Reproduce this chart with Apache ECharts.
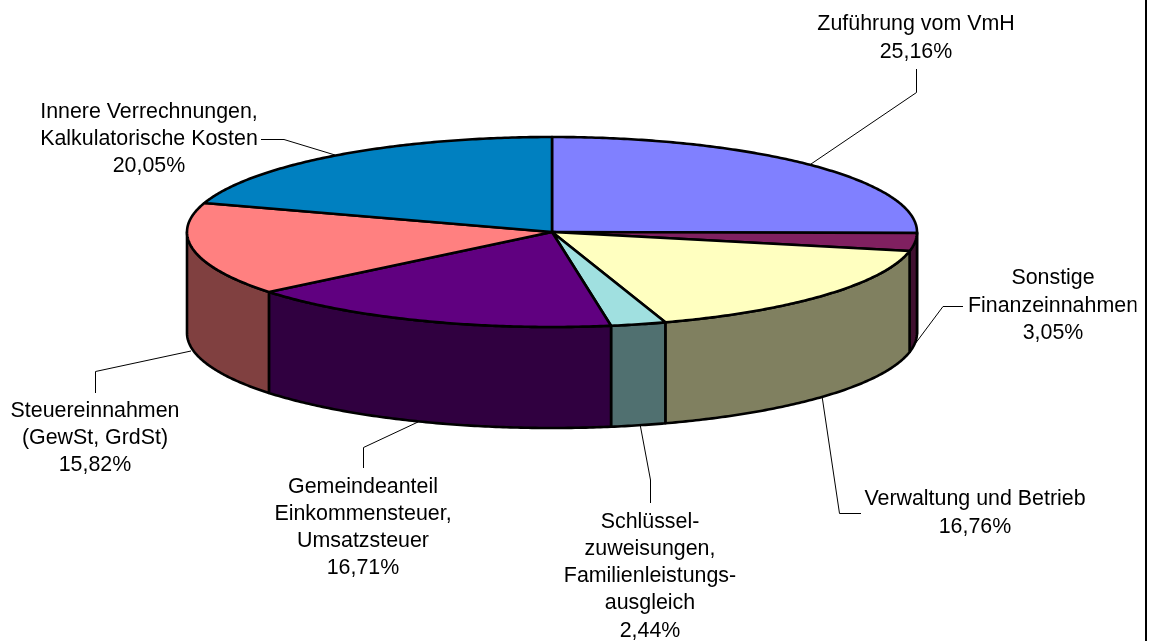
<!DOCTYPE html>
<html><head><meta charset="utf-8">
<style>html,body{margin:0;padding:0;background:#fff}#c{width:1149px;height:641px}</style>
<script src="https://cdn.jsdelivr.net/npm/echarts@6/dist/echarts.min.js"></script>
</head><body><div id="c"></div>
<script>
const categories = ['Zuführung vom VmH','Sonstige\nFinanzeinnahmen','Verwaltung und Betrieb','Schlüssel-\nzuweisungen,\nFamilienleistungs-\nausgleich','Gemeindeanteil\nEinkommensteuer,\nUmsatzsteuer','Steuereinnahmen\n(GewSt, GrdSt)','Innere Verrechnungen,\nKalkulatorische Kosten'];
const values = [25.16,3.05,16.76,2.44,16.71,15.82,20.05];
const percentLabels = ['25,16%','3,05%','16,76%','2,44%','16,71%','15,82%','20,05%'];
const topColors = ['#8080ff','#802060','#ffffc0','#a0e0e0','#600080','#ff8080','#0080c0'];
const sideColors = ['#404080','#401030','#808060','#507070','#300040','#804040','#004060'];

const CX=552, CY=232, RX=365, RY=95, DEPTH=101;
const total = values.reduce((a,b)=>a+b,0);
const pt = (t,dy)=>[CX+RX*Math.sin(t), CY-RY*Math.cos(t)+(dy||0)];
function arc(a,b,dy){const n=Math.max(2,Math.ceil(Math.abs(b-a)/0.01));const r=[];for(let i=0;i<=n;i++)r.push(pt(a+(b-a)*i/n,dy));return r;}
const LINE={stroke:'#000',lineWidth:2.6,lineJoin:'round'};

// label placement: centre x, first line centre y, leader polyline
const labelX=[916,1053,975,650,363,95,149];
const labelY=[24.5,278.5,499.5,522,487,411,112];
const leaders=[
 [[916.5,69],[916.5,92.5],[811,164]],
 [[963,306.5],[943,306.5],[909,352]],
 [[861,513.5],[839.5,513.5],[822,396]],
 [[650.5,503],[650.5,480],[640,424]],
 [[363.5,468],[363.5,447.5],[418,422]],
 [[95.5,393],[95.5,371.5],[191,351]],
 [[261,139.5],[284,139.5],[335,155]]
];

function renderSlice(params, api){
  const i=params.dataIndex;
  const before=values.slice(0,i).reduce((a,b)=>a+b,0);
  const a=before/total*2*Math.PI, b=(before+api.value(1))/total*2*Math.PI;
  const children=[];
  const pass=params.seriesIndex; // 0 walls, 1 tops
  if(pass===0){
    const s=Math.max(a,Math.PI/2), e=Math.min(b,Math.PI*1.5);
    if(e>s){
      const poly=arc(s,e,0).concat(arc(e,s,DEPTH));
      children.push({type:'polygon',shape:{points:poly},style:Object.assign({fill:sideColors[i]},LINE)});
    }
  } else {
    const poly=[[CX,CY]].concat(arc(a,b,0));
    children.push({type:'polygon',shape:{points:poly},style:Object.assign({fill:topColors[i]},LINE)});
  }
  return {type:'group',children};
}
function renderLabel(params, api){
  const i=params.dataIndex;
  const lines=categories[i].split('\n').concat([percentLabels[i]]);
  const children=[{type:'polyline',shape:{points:leaders[i]},style:{fill:'none',stroke:'#000',lineWidth:1}}];
  lines.forEach((t,k)=>{
    children.push({type:'text',x:labelX[i],y:labelY[i]+k*27.2,style:{text:t,fill:'#000',font:'21.4px "Liberation Sans", Arial, sans-serif',textAlign:'center',textVerticalAlign:'middle'}});
  });
  return {type:'group',children};
}
const seriesData=values.map((v,i)=>[i,v]);
const chart=echarts.init(document.getElementById('c'),null,{renderer:'canvas'});
chart.setOption({
  animation:false,
  backgroundColor:'#fff',
  series:[
    {type:'custom',coordinateSystem:'none',renderItem:renderSlice,data:seriesData,z:2,silent:true},
    {type:'custom',coordinateSystem:'none',renderItem:renderSlice,data:seriesData,z:3,silent:true},
    {type:'custom',coordinateSystem:'none',renderItem:renderLabel,data:seriesData,z:1,silent:true}
  ],
  graphic:[
    {type:'rect',z:9,shape:{x:1136.5,y:294,width:6,height:24},style:{fill:'#fff'}},
    {type:'line',z:10,shape:{x1:1146,y1:0,x2:1146,y2:641},style:{stroke:'#000',lineWidth:2}}
  ]
});
</script></body></html>
